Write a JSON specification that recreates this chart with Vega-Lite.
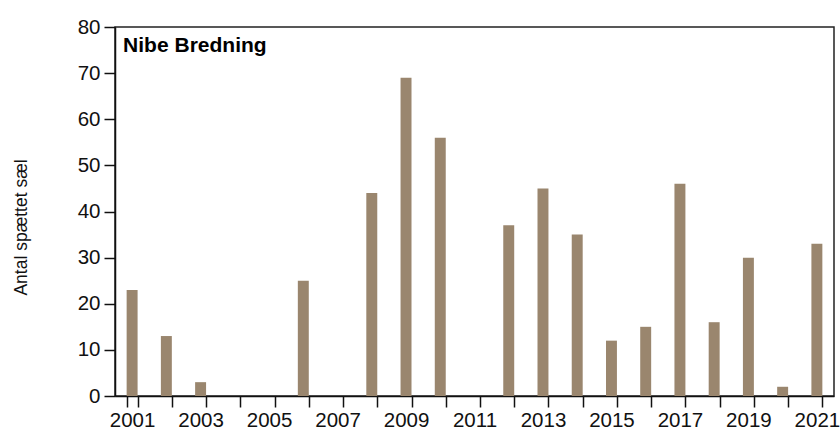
{
  "$schema": "https://vega.github.io/schema/vega-lite/v6.json",
  "width": 719,
  "height": 369,
  "autosize": {"type": "none"},
  "padding": {"left": 115, "top": 27, "right": 6, "bottom": 37},
  "background": "white",
  "config": {
    "view": {"stroke": "#222", "strokeWidth": 1.5},
    "axis": {
      "labelFont": "Liberation Sans",
      "titleFont": "Liberation Sans",
      "labelColor": "#111",
      "titleColor": "#111",
      "domainColor": "#111",
      "tickColor": "#111",
      "domainWidth": 1.5,
      "tickWidth": 1.5,
      "grid": false
    }
  },
  "layer": [
    {
      "data": {
        "values": [
          {"year": "2001", "count": 23},
          {"year": "2002", "count": 13},
          {"year": "2003", "count": 3},
          {"year": "2004", "count": 0},
          {"year": "2005", "count": 0},
          {"year": "2006", "count": 25},
          {"year": "2007", "count": 0},
          {"year": "2008", "count": 44},
          {"year": "2009", "count": 69},
          {"year": "2010", "count": 56},
          {"year": "2011", "count": 0},
          {"year": "2012", "count": 37},
          {"year": "2013", "count": 45},
          {"year": "2014", "count": 35},
          {"year": "2015", "count": 12},
          {"year": "2016", "count": 15},
          {"year": "2017", "count": 46},
          {"year": "2018", "count": 16},
          {"year": "2019", "count": 30},
          {"year": "2020", "count": 2},
          {"year": "2021", "count": 33}
        ]
      },
      "mark": {"type": "bar", "color": "#9a866e"},
      "encoding": {
        "x": {
          "field": "year",
          "type": "ordinal",
          "scale": {"paddingInner": 0.68, "paddingOuter": 0.34},
          "axis": {
            "title": null,
            "labelAngle": 0,
            "labelFontSize": 20.5,
            "labelPadding": 3,
            "labelOverlap": false,
            "tickSize": 11,
            "tickBand": "extent",
            "labelExpr": "toNumber(datum.value) % 2 == 1 ? datum.label : ''"
          }
        },
        "y": {
          "field": "count",
          "type": "quantitative",
          "scale": {"domain": [0, 80], "nice": false},
          "axis": {
            "title": "Antal spættet sæl",
            "titleFontSize": 17.5,
            "titleFontWeight": "normal",
            "titlePadding": 47,
            "titleY": 200,
            "labelFontSize": 20.5,
            "labelPadding": 4,
            "tickSize": 11,
            "values": [0, 10, 20, 30, 40, 50, 60, 70, 80]
          }
        }
      }
    },
    {
      "data": {"values": [{"label": "Nibe Bredning"}]},
      "mark": {
        "type": "text",
        "align": "left",
        "baseline": "alphabetic",
        "dx": -9,
        "font": "Liberation Sans",
        "fontSize": 21,
        "fontWeight": "bold",
        "color": "black"
      },
      "encoding": {
        "text": {"field": "label"},
        "x": {"datum": "2001"},
        "y": {"datum": 74.6}
      }
    }
  ]
}
